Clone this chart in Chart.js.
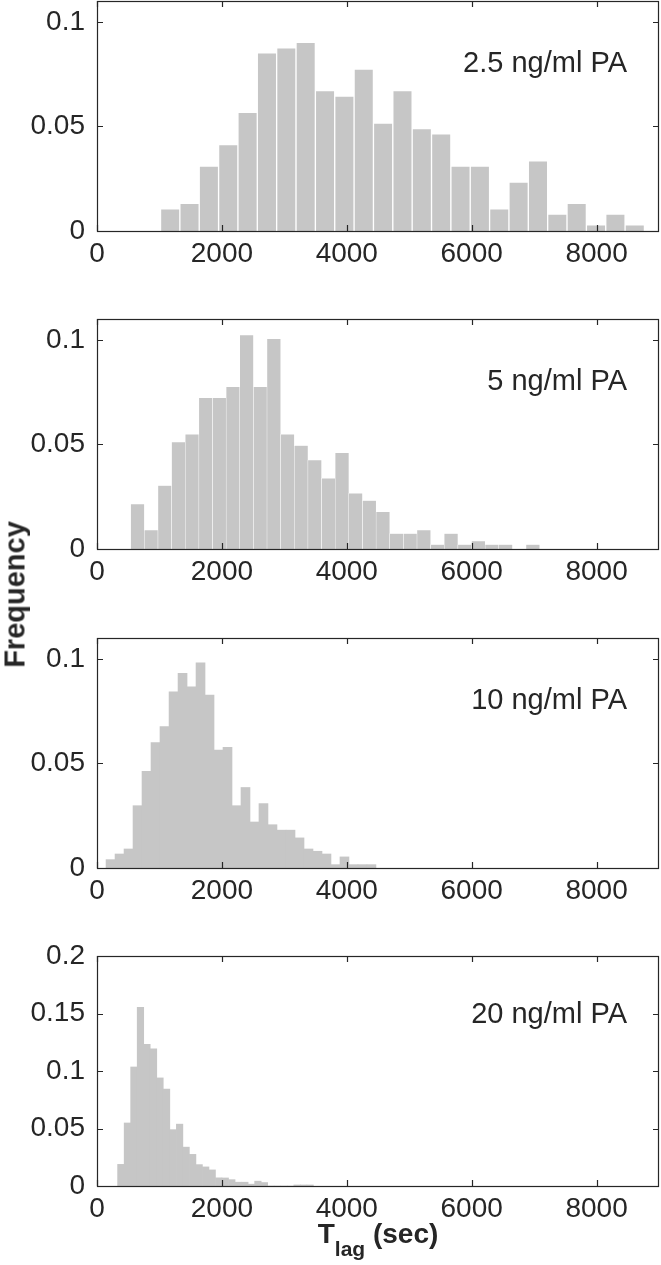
<!DOCTYPE html>
<html>
<head>
<meta charset="utf-8">
<script src="https://cdn.jsdelivr.net/npm/chart.js@4.4.1/dist/chart.umd.min.js"></script>
<style>
body{margin:0;background:#fff;}
#fig{position:relative;width:661px;height:1265px;overflow:hidden;font-family:"Liberation Sans",Arial,Helvetica,sans-serif;color:#262626;}
canvas{position:absolute;left:0;}
#ylab{position:absolute;left:-85.5px;top:580px;width:200px;height:29px;line-height:29px;text-align:center;font-weight:bold;font-size:29px;transform:rotate(-90deg);}
#xlab{position:absolute;left:97px;top:1220px;width:562px;line-height:28px;text-align:center;font-weight:bold;font-size:28px;white-space:nowrap;}
#xlab span{font-size:21px;vertical-align:-13px;line-height:0;}
</style>
</head>
<body>
<div id="fig">
  <canvas id="p0" width="661" height="300"></canvas>
  <canvas id="p1" width="661" height="300"></canvas>
  <canvas id="p2" width="661" height="300"></canvas>
  <canvas id="p3" width="661" height="300"></canvas>
  <div id="ylab">Frequency</div>
  <div id="xlab">T<span>lag</span> (sec)</div>
</div>
<script>
// x axis, Tlag in sec
const xTicks = [0, 2000, 4000, 6000, 8000];
const xMax = 9000;

// 2.5 ng/ml PA
const tlag1 = [1172, 1482, 1792, 2102, 2412, 2722, 3032, 3342, 3652, 3962, 4272, 4582, 4892,
               5202, 5512, 5822, 6132, 6442, 6752, 7062, 7372, 7682, 7992, 8302, 8612];
const freq1 = [0.0106, 0.0132, 0.0311, 0.0413, 0.0568, 0.0852, 0.0876, 0.0902, 0.0671, 0.0645, 0.0774, 0.0516, 0.0671,
               0.0490, 0.0465, 0.0311, 0.0311, 0.0106, 0.0234, 0.0335, 0.0081, 0.0132, 0.0029, 0.0081, 0.0029];

// 5 ng/ml PA
const tlag2 = [649, 867, 1086, 1304, 1523, 1741, 1959, 2178, 2396, 2614, 2832, 3051, 3269, 3487, 3706,
               3924, 4142, 4361, 4579, 4797, 5016, 5234, 5452, 5670, 5889, 6107, 6325, 6544, 6762, 6980];
const freq2 = [0.0215, 0.0091, 0.0303, 0.0511, 0.0548, 0.0723, 0.0723, 0.0776, 0.1023, 0.0776, 0.1005, 0.0548, 0.0495, 0.0425, 0.0338,
               0.0460, 0.0266, 0.0231, 0.0178, 0.0074, 0.0074, 0.0091, 0.0021, 0.0074, 0.0021, 0.0038, 0.0021, 0.0021, 0, 0.0021];

// 10 ng/ml PA
const tlag3 = [217, 361, 505, 649, 793, 937, 1081, 1226, 1370, 1514, 1658, 1802, 1946, 2090, 2234,
               2378, 2522, 2666, 2810, 2955, 3099, 3243, 3387, 3531, 3675, 3819, 3963, 4107, 4251, 4395];
const freq3 = [0.0040, 0.0067, 0.0091, 0.0298, 0.0462, 0.0600, 0.0676, 0.0843, 0.0931, 0.0867, 0.0981, 0.0827, 0.0564, 0.0577, 0.0298,
               0.0385, 0.0220, 0.0308, 0.0207, 0.0181, 0.0181, 0.0144, 0.0091, 0.0080, 0.0067, 0.0016, 0.0053, 0.0016, 0.0016, 0.0016];

// 20 ng/ml PA
const tlag4 = [382, 487, 591, 696, 800, 905, 1009, 1114, 1218, 1323, 1427, 1532, 1636, 1741, 1845,
               1950, 2054, 2159, 2263, 2368, 2472, 2577, 2681, 2786, 2890, 2995, 3099, 3204, 3308, 3413];
const freq4 = [0.0188, 0.0548, 0.1035, 0.1553, 0.1233, 0.1192, 0.0940, 0.0842, 0.0490, 0.0538, 0.0338, 0.0275, 0.0186, 0.0166, 0.0140,
               0.0071, 0.0070, 0.0055, 0.0033, 0.0033, 0.0016, 0.0042, 0.0030, 0, 0, 0, 0, 0.0009, 0.0009, 0.0009];

const panelLabels = ["2.5 ng/ml PA", "5 ng/ml PA", "10 ng/ml PA", "20 ng/ml PA"];
const yTicksSmall = [0, 0.05, 0.1];
const yTicksBig = [0, 0.05, 0.1, 0.15, 0.2];
const yMax = [0.11, 0.11, 0.11, 0.2];

// layout / style
const panelTop = [1, 319, 638, 956];
const panelH = 230;
const padTop = 12;
const canvasH = 300;
const labelDy = [71, 71, 71, 67];
const edgeW = [1, 0.5, 0, 0];
const ink = "#262626";
const barGrey = "#c6c6c6";

Chart.defaults.font.family = '"Liberation Sans", Arial, Helvetica, sans-serif';
Chart.defaults.font.size = 28;
Chart.defaults.color = ink;

// box, inward ticks on all four sides, panel label
const frame = {
    id: "frame",
    afterDatasetsDraw(chart, args, opts) {
        const ctx = chart.ctx;
        const a = chart.chartArea;
        const x = chart.scales.x, y = chart.scales.y;
        const tl = 6;
        ctx.save();
        ctx.strokeStyle = ink;
        ctx.lineWidth = 1.2;
        ctx.beginPath();
        x.ticks.forEach(t => {
            const px = Math.round(x.getPixelForValue(t.value)) + 0.5;
            ctx.moveTo(px, a.bottom); ctx.lineTo(px, a.bottom - tl);
            ctx.moveTo(px, a.top); ctx.lineTo(px, a.top + tl);
        });
        y.ticks.forEach(t => {
            const py = Math.round(y.getPixelForValue(t.value)) + 0.5;
            ctx.moveTo(a.left, py); ctx.lineTo(a.left + tl, py);
            ctx.moveTo(a.right, py); ctx.lineTo(a.right - tl, py);
        });
        ctx.stroke();
        ctx.strokeRect(a.left + 0.5, a.top + 0.5, a.right - a.left - 1, a.bottom - a.top);
        ctx.fillStyle = ink;
        ctx.font = '29px "Liberation Sans", Arial, Helvetica, sans-serif';
        ctx.textAlign = "right";
        ctx.textBaseline = "alphabetic";
        ctx.fillText(opts.label, a.right - 32, a.top + opts.dy);
        ctx.restore();
    }
};

const series = [[tlag1, freq1], [tlag2, freq2], [tlag3, freq3], [tlag4, freq4]];

series.forEach(([tlag, freq], i) => {
    const cv = document.getElementById("p" + i);
    cv.style.top = (panelTop[i] - padTop) + "px";
    const yTicks = i === 3 ? yTicksBig : yTicksSmall;

    new Chart(cv, {
        type: "bar",
        data: {
            datasets: [{
                data: tlag.map((t, k) => ({x: t, y: freq[k]})),
                backgroundColor: barGrey,
                borderColor: "#ffffff",
                borderWidth: edgeW[i],
                barPercentage: 1,
                categoryPercentage: 1
            }]
        },
        options: {
            responsive: false,
            animation: false,
            events: [],
            layout: {padding: {top: padTop, right: 2, left: 0, bottom: 0}},
            plugins: {
                legend: {display: false},
                tooltip: {enabled: false},
                frame: {label: panelLabels[i], dy: labelDy[i]}
            },
            scales: {
                x: {
                    type: "linear",
                    min: 0,
                    max: xMax,
                    offset: false,
                    grid: {display: false, drawTicks: false},
                    border: {display: false},
                    afterBuildTicks: s => { s.ticks = xTicks.map(v => ({value: v})); },
                    afterFit: s => {
                        s.height = canvasH - padTop - panelH;
                        s.paddingLeft = 0; s.paddingRight = 0;
                    },
                    ticks: {autoSkip: false, maxRotation: 0, padding: 6, callback: v => String(v)}
                },
                y: {
                    min: 0,
                    max: yMax[i],
                    grid: {display: false, drawTicks: false},
                    border: {display: false},
                    afterBuildTicks: s => { s.ticks = yTicks.map(v => ({value: v})); },
                    afterFit: s => {
                        s.width = 97;
                        s.paddingTop = 0; s.paddingBottom = 0;
                    },
                    ticks: {autoSkip: false, padding: 12, callback: v => String(v)}
                }
            }
        },
        plugins: [frame]
    });
});
</script>
</body>
</html>
